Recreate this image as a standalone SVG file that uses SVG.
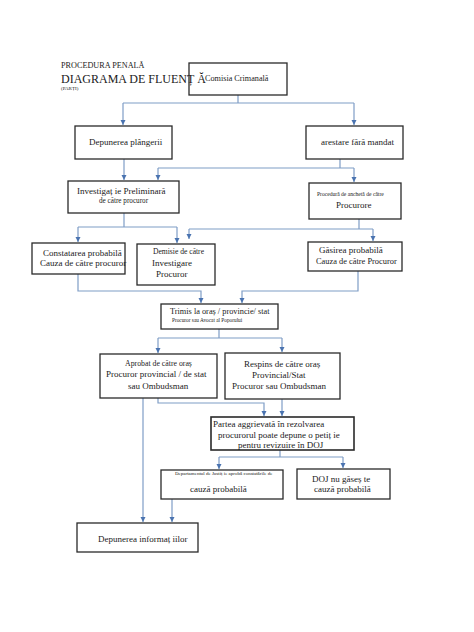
<svg xmlns="http://www.w3.org/2000/svg" width="474" height="632" viewBox="0 0 474 632">
<style>
text{font-family:"Liberation Serif","Times New Roman",serif;fill:#1a1a1a}
.box{fill:#fff;stroke:#2a2a2a;stroke-width:1.3}
.c{fill:none;stroke:#7f9dc6;stroke-width:1.2}
.s9{font-size:9px}
.s8{font-size:8px}
</style>
<defs>
<marker id="ah" markerUnits="userSpaceOnUse" markerWidth="6" markerHeight="6" refX="5" refY="3" orient="auto">
<path d="M0,0.5 L5,3 L0,5.5 Z" fill="#4a73b0"/>
</marker>
</defs>
<rect width="474" height="632" fill="#fff"/>
<g id="connectors">
<path class="c" d="M238,95 V103 M123,103 H354"/>
<path class="c" d="M123,103 V125" marker-end="url(#ah)"/>
<path class="c" d="M354,103 V125" marker-end="url(#ah)"/>
<path class="c" d="M124,159 V180" marker-end="url(#ah)"/>
<path class="c" d="M340,159 V168 M158,168 H354"/>
<path class="c" d="M158,168 V180" marker-end="url(#ah)"/>
<path class="c" d="M354,168 V182" marker-end="url(#ah)"/>
<path class="c" d="M124,213 V227 M78,227 H177"/>
<path class="c" d="M78,227 V242" marker-end="url(#ah)"/>
<path class="c" d="M177,227 V243" marker-end="url(#ah)"/>
<path class="c" d="M359,219 V229 M189,229 H373"/>
<path class="c" d="M189,229 V239" marker-end="url(#ah)"/>
<path class="c" d="M373,229 V241" marker-end="url(#ah)"/>
<path class="c" d="M78,274 V291 H201 V303" marker-end="url(#ah)"/>
<path class="c" d="M358,271 V291 H242 V303" marker-end="url(#ah)"/>
<path class="c" d="M219,329 V338 M158,338 H282"/>
<path class="c" d="M158,338 V353" marker-end="url(#ah)"/>
<path class="c" d="M282,338 V352" marker-end="url(#ah)"/>
<path class="c" d="M158,398 V403 H264 V416" marker-end="url(#ah)"/>
<path class="c" d="M282,399 V416" marker-end="url(#ah)"/>
<path class="c" d="M280,450 V457 M219,457 H343"/>
<path class="c" d="M219,457 V469" marker-end="url(#ah)"/>
<path class="c" d="M343,457 V468" marker-end="url(#ah)"/>
<path class="c" d="M143,398 V522" marker-end="url(#ah)"/>
<path class="c" d="M172,499 V522" marker-end="url(#ah)"/>
</g>
<g id="comisia">
<rect class="box" x="189" y="63" width="98" height="32"/>
<text x="205" y="81" style="font-size:8.2px">Comisia Crimanală</text>
</g>
<g id="depunerea-plangerii">
<rect class="box" x="75" y="126" width="97" height="33"/>
<text class="s9" x="89" y="145">Depunerea plângerii</text>
</g>
<g id="arestare">
<rect class="box" x="306" y="126" width="97" height="33"/>
<text class="s9" x="321" y="145">arestare fără mandat</text>
</g>
<g id="investigatie">
<rect class="box" x="68" y="181" width="111" height="32"/>
<text class="s9" x="77" y="194">Investigaț ie Preliminară</text>
<text x="99" y="203" style="font-size:7.2px">de către procuror</text>
</g>
<g id="procedura-ancheta">
<rect class="box" x="309" y="183" width="92" height="36"/>
<text x="317" y="196" style="font-size:5.6px">Procedură de anchetă de către</text>
<text class="s9" x="336" y="208">Procurore</text>
</g>
<g id="constatarea">
<rect class="box" x="32" y="243" width="93" height="31"/>
<text class="s9" x="43" y="256">Constatarea probabilă</text>
<text class="s9" x="40" y="266">Cauza de către procuror</text>
</g>
<g id="demisie">
<rect class="box" x="137" y="244" width="78" height="41"/>
<text x="153" y="254" style="font-size:7.6px">Demisie de către</text>
<text class="s9" x="152" y="266">Investigare</text>
<text class="s9" x="156" y="277">Procuror</text>
</g>
<g id="gasirea">
<rect class="box" x="308" y="242" width="94" height="29"/>
<text class="s9" x="319" y="253">Găsirea probabilă</text>
<text x="316" y="264" style="font-size:8.4px">Cauza de către Procuror</text>
</g>
<g id="trimis">
<rect class="box" x="161" y="304" width="117" height="25"/>
<text x="170" y="314" style="font-size:8.3px">Trimis la oraș / provincie/ stat</text>
<text x="172" y="322" style="font-size:5.3px">Procuror sau Avocat al Poporului</text>
</g>
<g id="aprobat">
<rect class="box" x="100" y="354" width="117" height="44"/>
<text x="125" y="366" style="font-size:7.8px">Aprobat de către oraș</text>
<text class="s9" x="106" y="377">Procuror provincial / de stat</text>
<text class="s9" x="128" y="389">sau Ombudsman</text>
</g>
<g id="respins">
<rect class="box" x="225" y="353" width="115" height="46"/>
<text class="s9" x="244" y="367">Respins de către oraș</text>
<text class="s9" x="252" y="378">Provincial/Stat</text>
<text class="s9" x="232" y="389">Procuror sau Ombudsman</text>
</g>
<g id="partea">
<rect class="box" x="211" y="417" width="143" height="33" style="stroke-width:1.6"/>
<text class="s9" x="213" y="427">Partea aggrievată în rezolvarea</text>
<text class="s9" x="218" y="438">procurorul poate depune o petiț ie</text>
<text class="s9" x="238" y="448">pentru revizuire în DOJ</text>
</g>
<g id="departamentul">
<rect class="box" x="161" y="470" width="122" height="29"/>
<text x="175" y="475" style="font-size:5px">Departamentul de Justiț ie aprobă constatările de</text>
<text class="s9" x="190" y="492">cauză probabilă</text>
</g>
<g id="doj">
<rect class="box" x="297" y="469" width="93" height="30"/>
<text class="s9" x="312" y="482">DOJ nu găseș te</text>
<text class="s9" x="314" y="492">cauză probabilă</text>
</g>
<g id="depunerea-informatiilor">
<rect class="box" x="77" y="523" width="121" height="29"/>
<text class="s9" x="98" y="542">Depunerea informaț iilor</text>
</g>
<g id="title">
<text x="61" y="68" style="font-size:8.2px">PROCEDURA PENALĂ</text>
<text x="61" y="83" style="font-size:12px">DIAGRAMA DE FLUENȚ Ă</text>
<text x="61" y="90" style="font-size:5px">(PARȚI)</text>
</g>
</svg>
